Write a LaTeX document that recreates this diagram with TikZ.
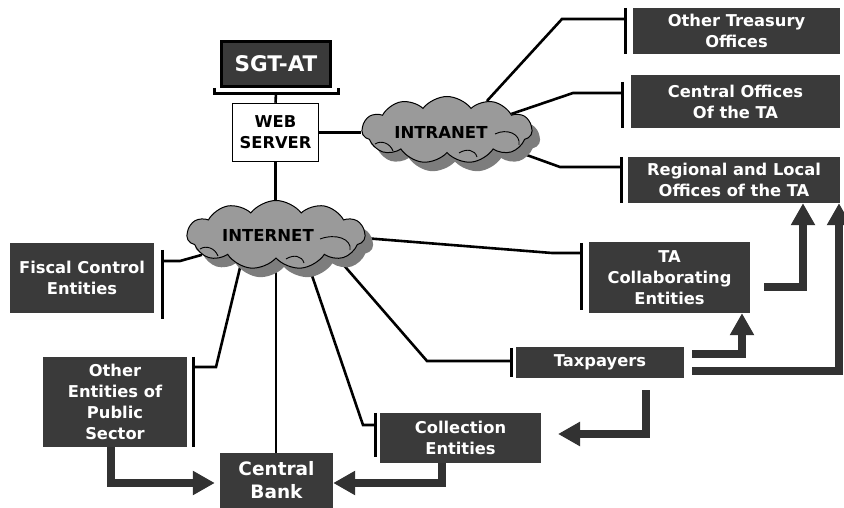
\documentclass[tikz,border=0pt]{standalone}
\usepackage{fontspec}
\setmainfont{DejaVu Sans}
\usetikzlibrary{shapes.symbols,arrows.meta,calc,shadows}
\definecolor{boxgray}{RGB}{58,58,58}
\definecolor{arrowgray}{RGB}{50,50,50}
\definecolor{cloudgray}{RGB}{154,154,154}
\definecolor{shadowgray}{RGB}{125,125,125}
\pgfdeclarelayer{background}
\pgfsetlayers{background,main}
\tikzset{
  conn/.style={line width=2.6pt, line join=miter},
  tee/.style={line width=3pt},
  fat/.style={draw=arrowgray, line width=8pt, line join=miter,
    -{Triangle[width=23pt,length=22pt]}},
  darkbox/.style={fill=boxgray, text=white, align=center, inner sep=0pt,
    font=\bfseries\fontsize{16.3}{20.9}\selectfont},
  netfont/.style={font=\bfseries\fontsize{16.5}{20}\selectfont},
  net/.style={cloud, cloud puffs=11, cloud puff arc=105, aspect=2.6,
    draw=black, line width=1pt, fill=cloudgray, inner sep=0pt,
    drop shadow={shadow xshift=8pt, shadow yshift=-9pt, fill=shadowgray, opacity=1}},
  puffline/.style={line width=0.9pt},
}
\begin{document}
\begin{tikzpicture}[x=1pt,y=-1pt]
\useasboundingbox (0,0) rectangle (844,508);

% servers
\node[draw=black, line width=3pt, fill=boxgray, text=white, inner sep=0pt,
  font=\bfseries\fontsize{21.5}{24}\selectfont,
  minimum width=109pt, minimum height=45pt] (sgt) at (276,64) {SGT-AT};
\node[draw=black, line width=1.5pt, fill=white, align=center, inner sep=0pt,
  font=\bfseries\fontsize{16.3}{20.9}\selectfont,
  minimum width=86pt, minimum height=58pt] (web) at (275.5,132.5) {WEB\\SERVER};

% networks
\node[net, minimum width=170pt, minimum height=67pt,
  label={[netfont, xshift=-6pt, yshift=-2pt]center:INTRANET}] (intranet) at (447,130) {};
\node[net, minimum width=178pt, minimum height=69pt,
  label={[netfont, xshift=-8pt]center:INTERNET}] (internet) at (276,235) {};

% inner puff outlines of the clouds
\draw[puffline] ($(intranet.center)+(48,4)$) .. controls ($(intranet.center)+(60,-2)$) and ($(intranet.center)+(74,4)$) .. ($(intranet.center)+(72,15)$);
\draw[puffline] ($(intranet.center)+(-72,14)$) .. controls ($(intranet.center)+(-66,10)$) and ($(intranet.center)+(-57,13)$) .. ($(intranet.center)+(-54,21)$);
\draw[puffline] ($(intranet.center)+(12,23)$) .. controls ($(intranet.center)+(20,18)$) and ($(intranet.center)+(28,20)$) .. ($(intranet.center)+(30,27)$);
\draw[puffline] ($(internet.center)+(44,4)$) .. controls ($(internet.center)+(60,-2)$) and ($(internet.center)+(76,4)$) .. ($(internet.center)+(74,15)$);
\draw[puffline] ($(internet.center)+(-76,14)$) .. controls ($(internet.center)+(-70,10)$) and ($(internet.center)+(-61,13)$) .. ($(internet.center)+(-58,21)$);
\draw[puffline] ($(internet.center)+(10,24)$) .. controls ($(internet.center)+(18,19)$) and ($(internet.center)+(26,21)$) .. ($(internet.center)+(28,28)$);

% entities
\node[darkbox, minimum width=207pt, minimum height=46pt] (oto) at (736.5,31) {Other Treasury\\Offices};
\node[darkbox, minimum width=209pt, minimum height=53pt] (coa) at (735.5,101.5) {Central Offices\\Of the TA};
\node[darkbox, minimum width=212pt, minimum height=46pt] (rlo) at (734,180) {Regional and Local\\Offices of the TA};
\node[darkbox, minimum width=144pt, minimum height=70pt] (fce) at (82,278) {Fiscal Control\\Entities};
\node[darkbox, minimum width=161pt, minimum height=71pt] (tac) at (669.5,277.5) {TA\\Collaborating\\Entities};
\node[darkbox, minimum width=168pt, minimum height=31pt] (tax) at (600,362.5) {Taxpayers};
\node[darkbox, minimum width=144pt, minimum height=90pt] (oeps) at (115,402) {Other\\Entities of\\Public\\Sector};
\node[darkbox, minimum width=161pt, minimum height=50pt] (col) at (460.5,438) {Collection\\Entities};
\node[darkbox, minimum width=113pt, minimum height=55pt,
  font=\bfseries\fontsize{18.5}{23}\selectfont] (cb) at (276.5,480.5) {Central\\Bank};

% bar positions beside the entity boxes
\coordinate (otobar) at ($(oto.west)+(-7,0)$);
\coordinate (coabar) at ($(coa.west)+(-8,0)$);
\coordinate (rlobar) at ($(rlo.west)+(-6,0)$);
\coordinate (fcebar) at ($(fce.east)+(8,0)$);
\coordinate (tacbar) at ($(tac.west)+(-7,0)$);
\coordinate (taxbar) at ($(tax.west)+(-4,0)$);
\coordinate (oepsbar) at ($(oeps.east)+(6,0)$);
\coordinate (colbar) at ($(col.west)+(-4,0)$);
\coordinate (taxdrop) at (558,434);

\begin{pgfonlayer}{background}
  % stand under the SGT-AT server
  \draw[tee] ($(sgt.south west)+(-6,0)$) -- ++(0,5.5) -| ($(sgt.south east)+(6,0)$);
  \draw[conn] ($(sgt.south)+(0,5.5)$) -- (web.north);
  \draw[conn] (web.east) -- (web.east -| intranet.west);
  \draw[conn] (web.south) -- (web.south |- internet.north);

  % intranet links
  \draw[conn] (intranet.36) -- (562,19) -- (562,19 -| otobar);
  \draw[conn] (intranet.14) -- (573,93) -- (573,93 -| coabar);
  \draw[conn] (intranet.-17) -- (560,167) -- (560,167 -| rlobar);

  % internet links
  \draw[conn] (internet.195) -- (180,261) -- (180,261 -| fcebar);
  \draw[conn] (internet.-2) -- (552,253) -- (552,253 -| tacbar);
  \draw[conn] (internet.-21) -- (427,361) -- (427,361 -| taxbar);
  \draw[conn] (internet.-44) -- (363,425) -- (363,425 -| colbar);
  \draw[conn] (internet.south) -- (internet.south |- cb.north);
  \draw[conn] (internet.221) -- (216,367) -- (216,367 -| oepsbar);
\end{pgfonlayer}

% bars
\draw[tee] (otobar |- oto.north) -- (otobar |- oto.south);
\draw[tee] ($(coabar |- coa.north)+(0,7)$) -- (coabar |- coa.south);
\draw[tee] (rlobar |- rlo.north) -- (rlobar |- rlo.south);
\draw[tee] ($(fcebar |- fce.north)+(0,7)$) -- ($(fcebar |- fce.south)+(0,6)$);
\draw[tee] ($(tacbar |- tac.north)+(0,1)$) -- ($(tacbar |- tac.south)+(0,-3)$);
\draw[tee] ($(taxbar |- tax.north)+(0,1)$) -- ($(taxbar |- tax.south)+(0,-1)$);
\draw[tee] (oepsbar |- oeps.north) -- (oepsbar |- oeps.south);
\draw[tee] (colbar |- col.north) -- ($(colbar |- col.south)+(0,-6)$);

% flows between entities
\draw[fat] ($(oeps.south)+(-4,0)$) |- ($(cb.west)+(-5,2.5)$);
\draw[fat] ($(col.south)+(-18.5,0)$) |- ($(cb.east)+(0,2.5)$);
\draw[fat] ($(tax.south)+(46,12)$) |- (taxdrop);
\draw[fat] ($(tax.east)+(8,-8.5)$) -| ($(tac.south)+(72.5,0)$);
\draw[fat] ($(tax.east)+(8,8.5)$) -| ($(rlo.south)+(105,0)$);
\draw[fat] ($(tac.east)+(14,9.5)$) -| ($(rlo.south)+(69,0)$);
\end{tikzpicture}
\end{document}
